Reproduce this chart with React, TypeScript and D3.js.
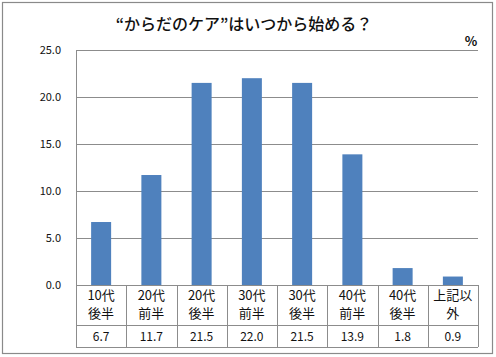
import React from "react";
import * as d3 from "d3";

const categoriesLine1 = ["10代", "20代", "20代", "30代", "30代", "40代", "40代", "上記以"];
const categoriesLine2 = ["後半", "前半", "後半", "前半", "後半", "前半", "後半", "外"];
const values = [6.7, 11.7, 21.5, 22.0, 21.5, 13.9, 1.8, 0.9];
const yTicks = [0, 5, 10, 15, 20, 25];
const title = "“からだのケア”はいつから始める？";

export default function App() {
  const W = 496, H = 357;
  const left = 76, right = 478, top = 50, bottom = 285;
  const row1 = 325, row2 = 347;
  const idx = values.map((_, i) => i);
  const x = d3.scaleBand<number>().domain(idx).range([left, right]).paddingInner(0).paddingOuter(0);
  const y = d3.scaleLinear().domain([0, 25]).range([bottom, top]);
  const bw = 20;
  const font = "'Noto Sans CJK JP', 'Noto Sans', sans-serif";
  const grid = "#8c8c8c";
  return (
    <svg width={W} height={H} style={{ position: "absolute", left: 0, top: 0 }} fontFamily={font}>
      <rect x={0} y={0} width={W} height={H} fill="#fff" />
      <rect x={2.5} y={2.5} width={490} height={351} fill="none" stroke="#8a8a8a" strokeWidth={1.2} />
      <text x={244} y={30} textAnchor="middle" fontSize={16} fontWeight={500} fill="#111">{title}</text>
      <text x={471} y={46} textAnchor="middle" fontSize={13} fontWeight="bold" fill="#111">%</text>
      {yTicks.map((t) => (
        <g key={t}>
          {t > 0 && (
            <line x1={left} x2={right} y1={Math.round(y(t)) + 0.5} y2={Math.round(y(t)) + 0.5} stroke={grid} strokeWidth={1} />
          )}
          <text x={61} y={y(t) + 4} textAnchor="end" fontSize={11} fill="#111">{t.toFixed(1)}</text>
        </g>
      ))}
      <line x1={left + 0.5} x2={left + 0.5} y1={top} y2={row2} stroke={grid} />
      {values.map((v, i) => {
        const cx = (x(i) as number) + x.bandwidth() / 2;
        return (
          <rect key={i} x={cx - bw / 2} y={y(v)} width={bw} height={bottom - y(v)} fill="#4F81BD" />
        );
      })}
      <line x1={left} x2={right} y1={bottom + 0.5} y2={bottom + 0.5} stroke={grid} />
      <line x1={left} x2={right} y1={row1 + 0.5} y2={row1 + 0.5} stroke={grid} />
      <line x1={left} x2={right} y1={row2 + 0.5} y2={row2 + 0.5} stroke={grid} />
      {idx.map((i) => {
        const xe = (x(i) as number) + x.bandwidth();
        return <line key={i} x1={Math.round(xe) + 0.5} x2={Math.round(xe) + 0.5} y1={bottom} y2={row2} stroke={grid} />;
      })}
      {values.map((v, i) => {
        const cx = (x(i) as number) + x.bandwidth() / 2;
        return (
          <g key={i} fill="#111">
            <text x={cx} y={300} textAnchor="middle" fontSize={13}>{categoriesLine1[i]}</text>
            <text x={cx} y={318} textAnchor="middle" fontSize={13}>{categoriesLine2[i]}</text>
            <text x={cx} y={341} textAnchor="middle" fontSize={12}>{v.toFixed(1)}</text>
          </g>
        );
      })}
    </svg>
  );
}
